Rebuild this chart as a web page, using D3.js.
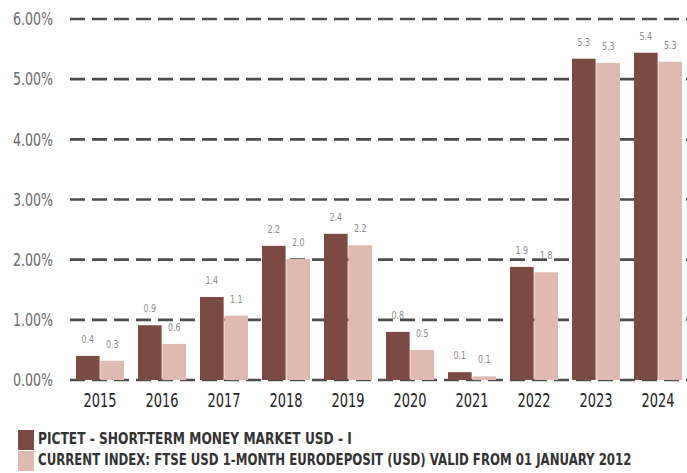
<!DOCTYPE html>
<html>
<head>
<meta charset="utf-8">
<script src="https://cdn.jsdelivr.net/npm/d3@7"></script>
<style>
  body { margin: 0; background: #fff; }
  svg { display: block; }
  .cond { font-family: "DejaVu Sans Condensed", "DejaVu Sans", sans-serif; font-stretch: condensed; }
</style>
</head>
<body>
<div class="chart"></div>
<script>
// Chart size
const width = 687;
const height = 473;

// Data
const years = ['2015', '2016', '2017', '2018', '2019', '2020', '2021', '2022', '2023', '2024'];
const seriesNames = [
  'PICTET - SHORT-TERM MONEY MARKET USD - I',
  'CURRENT INDEX: FTSE USD 1-MONTH EURODEPOSIT (USD) VALID FROM 01 JANUARY 2012'
];
const fundValues = [0.40, 0.91, 1.38, 2.23, 2.43, 0.80, 0.13, 1.88, 5.34, 5.44];
const indexValues = [0.32, 0.60, 1.07, 2.01, 2.24, 0.50, 0.06, 1.79, 5.27, 5.29];
const yTicks = [0, 1, 2, 3, 4, 5, 6];
const colors = ['#7b4a42', '#e0bab0'];

const data = years.map((y, i) => ({ year: y, values: [fundValues[i], indexValues[i]] }));

const svg = d3.select('.chart')
  .append('svg')
  .attr('width', width)
  .attr('height', height);

// Scales
const x = d3.scaleBand()
  .domain(years)
  .range([69, 689])
  .paddingInner(0.226)
  .paddingOuter(0.113);

const x1 = d3.scaleBand()
  .domain([0, 1])
  .range([0, x.bandwidth()])
  .paddingInner(0.03);

const y = d3.scaleLinear()
  .domain([0, 6])
  .range([380, 19]);

// Gridlines (behind bars)
svg.append('g')
  .selectAll('line')
  .data(yTicks)
  .join('line')
    .attr('x1', 70)
    .attr('x2', width)
    .attr('y1', d => y(d))
    .attr('y2', d => y(d))
    .attr('stroke', '#4d4d4d')
    .attr('stroke-width', 2.6)
    .attr('stroke-dasharray', '15,7');

// Y axis labels (narrowed to mimic the condensed face)
const yAxis = svg.append('g')
  .attr('class', 'cond')
  .attr('transform', 'translate(53,0)')
  .call(d3.axisLeft(y).tickValues(yTicks).tickSize(0).tickPadding(0)
    .tickFormat(d => d3.format('.2f')(d) + '%'));
yAxis.select('.domain').remove();
yAxis.selectAll('text')
  .attr('font-size', 18)
  .attr('fill', '#6b6b6b')
  .attr('transform', 'scale(0.78,1)');

// Bars
const groups = svg.append('g')
  .selectAll('g')
  .data(data)
  .join('g')
    .attr('transform', d => `translate(${x(d.year)},0)`);

groups.selectAll('rect')
  .data(d => d.values.map((v, i) => ({ i, v })))
  .join('rect')
    .attr('x', d => x1(d.i))
    .attr('width', x1.bandwidth())
    .attr('y', d => y(d.v))
    .attr('height', d => y(0) - y(d.v))
    .attr('fill', d => colors[d.i]);

// Value labels
groups.selectAll('text')
  .data(d => d.values.map((v, i) => ({ i, v })))
  .join('text')
    .attr('class', 'cond')
    .attr('transform', d => `translate(${x1(d.i) + x1.bandwidth() / 2},${y(d.v) - 13}) scale(0.8,1)`)
    .attr('text-anchor', 'middle')
    .attr('font-size', 11)
    .attr('fill', '#8a8a8a')
    .text(d => d3.format('.1f')(d.v));

// X axis labels
const xAxis = svg.append('g')
  .attr('class', 'cond')
  .attr('transform', 'translate(0,393)')
  .call(d3.axisBottom(x).tickSize(0).tickPadding(0));
xAxis.select('.domain').remove();
xAxis.selectAll('text')
  .attr('font-size', 19)
  .attr('fill', '#222')
  .attr('dy', '0.75em')
  .attr('transform', 'scale(0.76,1)');

// Legend
const legendWidths = [314, 594];
const legend = svg.append('g')
  .selectAll('g')
  .data(seriesNames)
  .join('g')
    .attr('transform', (d, i) => `translate(18,${430 + i * 21})`);

legend.append('rect')
  .attr('width', 16)
  .attr('height', 20)
  .attr('fill', (d, i) => colors[i]);

// texte compressé horizontalement pour tenir dans la largeur voulue
legend.append('text')
  .attr('class', 'cond')
  .attr('y', 8)
  .attr('dy', '0.36em')
  .attr('font-size', 16.5)
  .attr('font-weight', 'bold')
  .attr('fill', '#333')
  .text(d => d)
  .attr('transform', function (d, i) {
    const k = legendWidths[i] / this.getComputedTextLength();
    return `translate(20,0) scale(${k},1)`;
  });
</script>
</body>
</html>
